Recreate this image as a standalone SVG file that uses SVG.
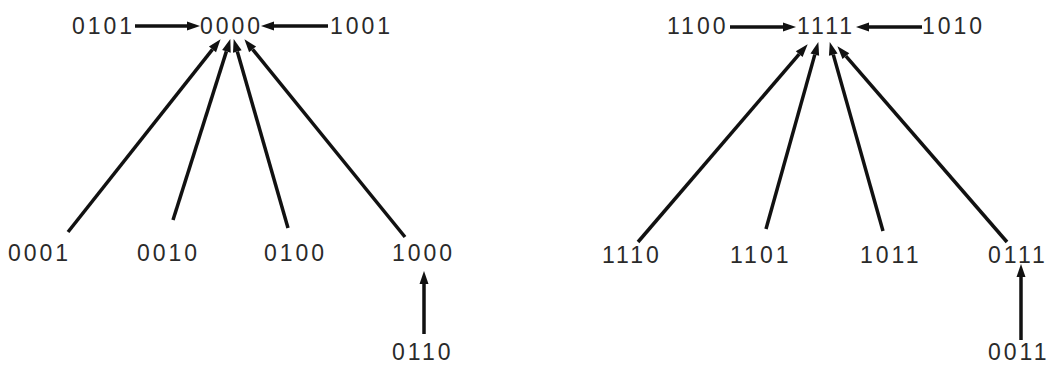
<svg xmlns="http://www.w3.org/2000/svg" width="1060" height="366" viewBox="0 0 1060 366">
<style>
.n{font-family:"Liberation Sans",Arial,sans-serif;font-size:23px;fill:#2a2a2a;letter-spacing:3px}
.c line{stroke:#111;stroke-width:3.5;marker-end:url(#ah)}
</style>
<defs>
<marker id="ah" markerUnits="userSpaceOnUse" viewBox="0 -5 14 10" markerWidth="14" markerHeight="10" refX="0" refY="0" orient="auto" overflow="visible">
<path d="M0,-4.5 L13,0 L0,4.5 Z" fill="#111"/>
</marker>
</defs>
<rect width="1060" height="366" fill="#fff"/>
<g id="connectors" class="c">
<line x1="135" y1="26" x2="187" y2="26"/>
<line x1="328" y1="26" x2="274" y2="26"/>
<line x1="68" y1="232" x2="212.5" y2="49.4"/>
<line x1="173" y1="220" x2="226.4" y2="51.4"/>
<line x1="288" y1="228" x2="237.3" y2="51.5"/>
<line x1="405" y1="237" x2="252.6" y2="49.3"/>
<line x1="424" y1="334" x2="424" y2="284"/>
<line x1="730" y1="27" x2="783" y2="27"/>
<line x1="922" y1="27" x2="869" y2="27"/>
<line x1="638" y1="242" x2="799.2" y2="54.1"/>
<line x1="766" y1="229" x2="814.8" y2="54.6"/>
<line x1="883" y1="231" x2="833.3" y2="54.6"/>
<line x1="1007" y1="242" x2="845.9" y2="56.1"/>
<line x1="1021" y1="340" x2="1021" y2="277"/>
</g>
<g id="n0101"><text class="n" x="72" y="34">0101</text></g>
<g id="n0000"><text class="n" x="200" y="34">0000</text></g>
<g id="n1001"><text class="n" x="330" y="34">1001</text></g>
<g id="n0001"><text class="n" x="8" y="261">0001</text></g>
<g id="n0010"><text class="n" x="137" y="261">0010</text></g>
<g id="n0100"><text class="n" x="264" y="261">0100</text></g>
<g id="n1000"><text class="n" x="392" y="261">1000</text></g>
<g id="n0110"><text class="n" x="392" y="360">0110</text></g>
<g id="n1100"><text class="n" x="667" y="34">1100</text></g>
<g id="n1111"><text class="n" x="797" y="34">1111</text></g>
<g id="n1010"><text class="n" x="922" y="34">1010</text></g>
<g id="n1110"><text class="n" x="602" y="263">1110</text></g>
<g id="n1101"><text class="n" x="730" y="263">1101</text></g>
<g id="n1011"><text class="n" x="860" y="263">1011</text></g>
<g id="n0111"><text class="n" x="988" y="263">0111</text></g>
<g id="n0011"><text class="n" x="988" y="360">0011</text></g>
</svg>
